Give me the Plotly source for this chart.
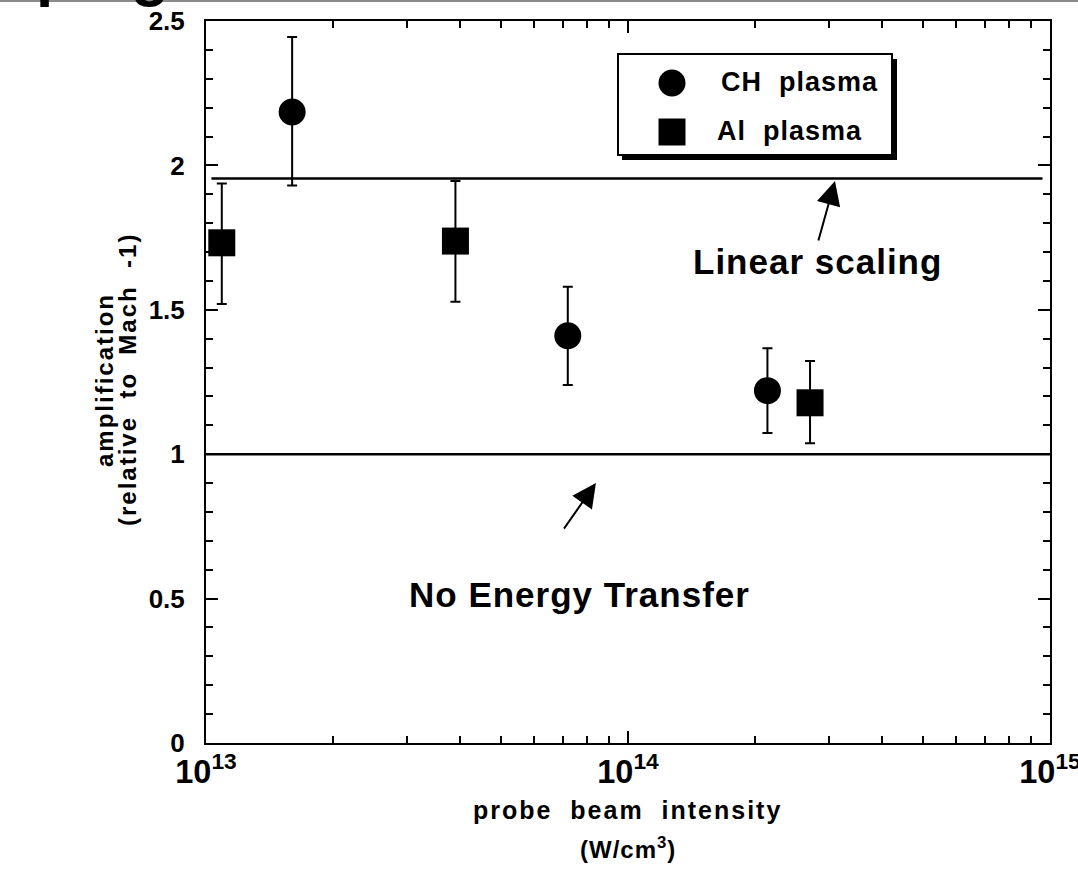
import plotly.graph_objects as go

# ---- data -------------------------------------------------------------
ch_intensity = [1.6e13, 7.2e13, 2.14e14]
ch_amp = [2.185, 1.41, 1.22]
ch_err_up = [0.26, 0.17, 0.147]
ch_err_down = [0.255, 0.17, 0.147]

al_intensity = [1.09e13, 3.9e13, 2.7e14]
al_amp = [1.732, 1.738, 1.178]
al_err_up = [0.205, 0.208, 0.145]
al_err_down = [0.212, 0.21, 0.14]

linear_scaling_level = 1.955
no_transfer_level = 1.0

# ---- layout geometry (pixels) ----------------------------------------
FIG_W, FIG_H = 1078, 869
L, R, T, B = 206, 1050, 21, 743
PW, PH = R - L, B - T
FONT = "Liberation Sans, Arial, Helvetica, sans-serif"


def px_x(px):
    return (px - L) / PW


def px_y(py):
    return (B - py) / PH


def label(text, px):
    return f'<b><span style="letter-spacing:{px}px">{text}</span></b>'


fig = go.Figure()

fig.add_trace(go.Scatter(
    x=ch_intensity, y=ch_amp, mode="markers", name="CH plasma",
    marker=dict(symbol="circle", size=27, color="black"),
    error_y=dict(type="data", array=ch_err_up, arrayminus=ch_err_down,
                 thickness=2, width=5, color="black"),
    showlegend=False,
))
fig.add_trace(go.Scatter(
    x=al_intensity, y=al_amp, mode="markers", name="Al plasma",
    marker=dict(symbol="square", size=27, color="black"),
    error_y=dict(type="data", array=al_err_up, arrayminus=al_err_down,
                 thickness=2, width=5, color="black"),
    showlegend=False,
))

shapes = [
    # reference levels
    dict(type="line", xref="x", yref="y", x0=1.03e13, x1=9.6e14,
         y0=linear_scaling_level, y1=linear_scaling_level,
         line=dict(color="black", width=2.5)),
    dict(type="line", xref="paper", yref="y", x0=0, x1=1,
         y0=no_transfer_level, y1=no_transfer_level,
         line=dict(color="black", width=2.5)),
    # thin grey rule along the top edge
    dict(type="line", xref="paper", yref="paper", x0=px_x(0), x1=px_x(FIG_W),
         y0=px_y(1), y1=px_y(1), line=dict(color="#8a8a8a", width=2)),
    # legend box with drop shadow
    dict(type="rect", xref="paper", yref="paper", layer="above",
         x0=px_x(622), x1=px_x(897), y0=px_y(59), y1=px_y(160),
         fillcolor="black", line=dict(width=0)),
    dict(type="rect", xref="paper", yref="paper", layer="above",
         x0=px_x(618), x1=px_x(892), y0=px_y(54), y1=px_y(155),
         fillcolor="white", line=dict(color="black", width=2)),
    # legend symbols
    dict(type="circle", xref="paper", yref="paper", layer="above",
         x0=px_x(658.5), x1=px_x(685.5), y0=px_y(69.5), y1=px_y(96.5),
         fillcolor="black", line=dict(width=0)),
    dict(type="rect", xref="paper", yref="paper", layer="above",
         x0=px_x(658.5), x1=px_x(685.5), y0=px_y(118.5), y1=px_y(145.5),
         fillcolor="black", line=dict(width=0)),
]

base = dict(family=FONT, color="black")


def note(x, y, text, size, ref="paper", **kw):
    d = dict(x=x, y=y, xref=ref, yref=ref, text=text, showarrow=False,
             xanchor="center", yanchor="middle", font=dict(size=size, **base))
    d.update(kw)
    return d


annotations = [
    # arrows pointing at the reference levels
    dict(x=14.4905, y=1.946, xref="x", yref="y", text="", showarrow=True,
         ax=-17, ay=61, arrowhead=2, arrowsize=2.4, arrowwidth=2,
         arrowcolor="black", standoff=0),
    dict(x=13.924, y=0.900, xref="x", yref="y", text="", showarrow=True,
         ax=-33, ay=47, arrowhead=2, arrowsize=2.4, arrowwidth=2,
         arrowcolor="black", standoff=0),
    note(14.450, 1.667, label("Linear scaling", 1), 35, ref="x"),
    note(13.884, 0.515, label("No Energy Transfer", 1), 35, ref="x"),
    # legend labels
    note(px_x(719), px_y(82), label("CH\u00a0\u00a0plasma", 1), 27, xanchor="left"),
    note(px_x(715), px_y(131), label("Al\u00a0\u00a0plasma", 1), 27, xanchor="left"),
    # axis titles
    note(px_x(104), px_y(380), label("amplification", 2), 24, textangle=-90),
    note(px_x(127), px_y(380),
         label("(relative\u00a0\u00a0to\u00a0\u00a0Mach\u00a0\u00a0-1)", 2), 24, textangle=-90),
    note(px_x(627), px_y(810),
         label("probe\u00a0\u00a0beam\u00a0\u00a0intensity", 2), 25),
    note(px_x(628), px_y(848), label("(W/cm<sup>3</sup>)", 1), 24),
    # descenders of the heading above the frame
    note(px_x(55), px_y(-28), "<b>p</b>", 62),
    note(px_x(150), px_y(-27), "<b>g</b>", 62),
]
# data-anchored notes
for a in annotations[2:4]:
    a["yref"] = "y"

axis_common = dict(
    showline=True, linecolor="black", linewidth=2, mirror="allticks",
    ticks="inside", ticklen=12, tickwidth=2, tickcolor="black",
    showgrid=False, zeroline=False, automargin=False,
    ticklabeloverflow="allow",
    tickfont=dict(size=26, weight="bold", **base),
)

fig.update_xaxes(
    type="log", range=[13, 15], dtick=1, exponentformat="power",
    minor=dict(ticks="inside", ticklen=7, tickwidth=2, tickcolor="black",
               dtick="D1", showgrid=False),
    ticklabelstandoff=0,
    **axis_common,
)
fig.update_yaxes(
    range=[0, 2.5], dtick=0.5,
    minor=dict(ticks="inside", ticklen=7, tickwidth=2, tickcolor="black",
               dtick=0.1, showgrid=False),
    ticklabelstandoff=14,
    **axis_common,
)

fig.update_layout(
    width=FIG_W, height=FIG_H,
    margin=dict(l=L, r=FIG_W - R, t=T, b=FIG_H - B, pad=0),
    paper_bgcolor="white", plot_bgcolor="white",
    font=dict(size=16, **base),
    shapes=shapes, annotations=annotations,
    showlegend=False,
)

fig.write_html("out.html")
